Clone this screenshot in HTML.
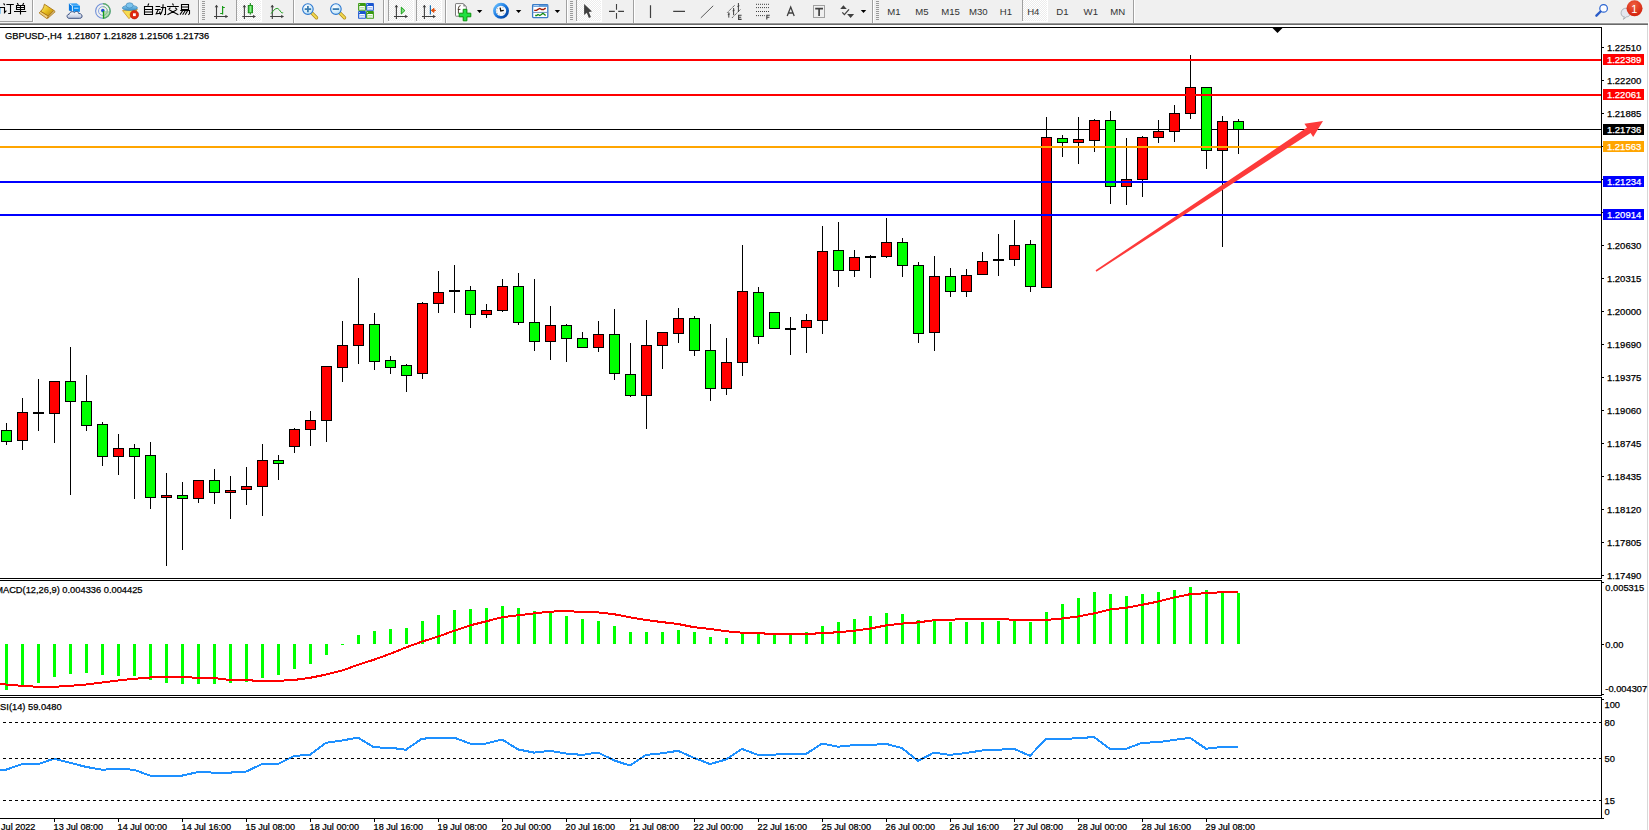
<!DOCTYPE html>
<html><head><meta charset="utf-8"><title>MT4 GBPUSD H4</title>
<style>
html,body{margin:0;padding:0;background:#fff;}
body{width:1649px;height:830px;overflow:hidden;position:relative;font-family:"Liberation Sans", sans-serif;}
svg{position:absolute;left:0;top:0;display:block;}
text{font-family:"Liberation Sans", sans-serif;}
</style></head><body>
<svg width="1649" height="830" viewBox="0 0 1649 830">
<rect x="0" y="0" width="1649" height="830" fill="#fff"/>
<rect x="0" y="0" width="1649" height="22" fill="#f0f0f0"/>
<rect x="0" y="22" width="1648" height="1" fill="#f5f5f5"/>
<rect x="0" y="23" width="1648" height="1" fill="#9a9a9a"/>
<rect x="0" y="24" width="1648" height="1" fill="#6a6a6a"/>
<defs>
<pattern id="dith" width="2" height="2" patternUnits="userSpaceOnUse">
<rect width="2" height="2" fill="#ececec"/><rect width="1" height="1" fill="#fff"/><rect x="1" y="1" width="1" height="1" fill="#fff"/>
</pattern>
<linearGradient id="gold" x1="0" y1="0" x2="1" y2="1"><stop offset="0" stop-color="#fff08a"/><stop offset="0.5" stop-color="#e8c020"/><stop offset="1" stop-color="#b07810"/></linearGradient>
<linearGradient id="cloud" x1="0" y1="0" x2="0" y2="1"><stop offset="0" stop-color="#ffffff"/><stop offset="1" stop-color="#b8c4dc"/></linearGradient>
<radialGradient id="lens" cx="0.4" cy="0.35" r="0.7"><stop offset="0" stop-color="#ffffff"/><stop offset="1" stop-color="#b8e0f8"/></radialGradient>
<linearGradient id="cgreen" x1="0" y1="0" x2="1" y2="0"><stop offset="0" stop-color="#10a010"/><stop offset="0.5" stop-color="#90f890"/><stop offset="1" stop-color="#10a010"/></linearGradient>
<radialGradient id="badge" cx="0.45" cy="0.3" r="0.75"><stop offset="0" stop-color="#f06040"/><stop offset="1" stop-color="#d01c08"/></radialGradient>
<linearGradient id="clk" x1="0" y1="0" x2="1" y2="1"><stop offset="0" stop-color="#6ac0ff"/><stop offset="0.5" stop-color="#1a78e0"/><stop offset="1" stop-color="#003c98"/></linearGradient>
<linearGradient id="hat" x1="0" y1="0" x2="0" y2="1"><stop offset="0" stop-color="#8cd0f4"/><stop offset="1" stop-color="#3a90c8"/></linearGradient>
</defs>
<rect x="237" y="0" width="24" height="21" fill="url(#dith)"/>
<rect x="261" y="0" width="1" height="22" fill="#fff"/>
<rect x="236" y="21" width="26" height="1" fill="#fff"/>
<rect x="389" y="0" width="24" height="21" fill="url(#dith)"/>
<rect x="413" y="0" width="1" height="22" fill="#fff"/>
<rect x="388" y="21" width="26" height="1" fill="#fff"/>
<rect x="417" y="0" width="24" height="21" fill="url(#dith)"/>
<rect x="441" y="0" width="1" height="22" fill="#fff"/>
<rect x="416" y="21" width="26" height="1" fill="#fff"/>
<rect x="577" y="0" width="24" height="21" fill="url(#dith)"/>
<rect x="601" y="0" width="1" height="22" fill="#fff"/>
<rect x="576" y="21" width="26" height="1" fill="#fff"/>
<rect x="1023" y="0" width="24" height="21" fill="url(#dith)"/>
<rect x="1047" y="0" width="1" height="22" fill="#fff"/>
<rect x="1022" y="21" width="26" height="1" fill="#fff"/>
<g shape-rendering="crispEdges">
<rect x="32" y="0" width="1" height="22" fill="#a0a0a0"/>
<rect x="0" y="21" width="33" height="1" fill="#a0a0a0"/>
<rect x="33" y="0" width="1" height="22" fill="#ffffff"/>
<rect x="198" y="0" width="1" height="23" fill="#a0a0a0"/>
<rect x="199" y="0" width="1" height="23" fill="#ffffff"/>
<rect x="293" y="0" width="1" height="23" fill="#a0a0a0"/>
<rect x="294" y="0" width="1" height="23" fill="#ffffff"/>
<rect x="383" y="0" width="1" height="23" fill="#a0a0a0"/>
<rect x="384" y="0" width="1" height="23" fill="#ffffff"/>
<rect x="445" y="0" width="1" height="23" fill="#a0a0a0"/>
<rect x="446" y="0" width="1" height="23" fill="#ffffff"/>
<rect x="566" y="0" width="1" height="23" fill="#a0a0a0"/>
<rect x="567" y="0" width="1" height="23" fill="#ffffff"/>
<rect x="633" y="0" width="1" height="23" fill="#a0a0a0"/>
<rect x="634" y="0" width="1" height="23" fill="#ffffff"/>
<rect x="872" y="0" width="1" height="23" fill="#a0a0a0"/>
<rect x="873" y="0" width="1" height="23" fill="#ffffff"/>
<rect x="1133" y="0" width="1" height="23" fill="#a0a0a0"/>
<rect x="1134" y="0" width="1" height="23" fill="#ffffff"/>
<rect x="236" y="0" width="1" height="21" fill="#a0a0a0"/>
<rect x="388" y="0" width="1" height="21" fill="#a0a0a0"/>
<rect x="416" y="0" width="1" height="21" fill="#a0a0a0"/>
<rect x="576" y="0" width="1" height="21" fill="#a0a0a0"/>
<rect x="1022" y="0" width="1" height="21" fill="#a0a0a0"/>
<rect x="202" y="1" width="3" height="1" fill="#9a9a9a"/>
<rect x="202" y="3" width="3" height="1" fill="#9a9a9a"/>
<rect x="202" y="5" width="3" height="1" fill="#9a9a9a"/>
<rect x="202" y="7" width="3" height="1" fill="#9a9a9a"/>
<rect x="202" y="9" width="3" height="1" fill="#9a9a9a"/>
<rect x="202" y="11" width="3" height="1" fill="#9a9a9a"/>
<rect x="202" y="13" width="3" height="1" fill="#9a9a9a"/>
<rect x="202" y="15" width="3" height="1" fill="#9a9a9a"/>
<rect x="202" y="17" width="3" height="1" fill="#9a9a9a"/>
<rect x="202" y="19" width="3" height="1" fill="#9a9a9a"/>
<rect x="570" y="1" width="3" height="1" fill="#9a9a9a"/>
<rect x="570" y="3" width="3" height="1" fill="#9a9a9a"/>
<rect x="570" y="5" width="3" height="1" fill="#9a9a9a"/>
<rect x="570" y="7" width="3" height="1" fill="#9a9a9a"/>
<rect x="570" y="9" width="3" height="1" fill="#9a9a9a"/>
<rect x="570" y="11" width="3" height="1" fill="#9a9a9a"/>
<rect x="570" y="13" width="3" height="1" fill="#9a9a9a"/>
<rect x="570" y="15" width="3" height="1" fill="#9a9a9a"/>
<rect x="570" y="17" width="3" height="1" fill="#9a9a9a"/>
<rect x="570" y="19" width="3" height="1" fill="#9a9a9a"/>
<rect x="876" y="1" width="3" height="1" fill="#9a9a9a"/>
<rect x="876" y="3" width="3" height="1" fill="#9a9a9a"/>
<rect x="876" y="5" width="3" height="1" fill="#9a9a9a"/>
<rect x="876" y="7" width="3" height="1" fill="#9a9a9a"/>
<rect x="876" y="9" width="3" height="1" fill="#9a9a9a"/>
<rect x="876" y="11" width="3" height="1" fill="#9a9a9a"/>
<rect x="876" y="13" width="3" height="1" fill="#9a9a9a"/>
<rect x="876" y="15" width="3" height="1" fill="#9a9a9a"/>
<rect x="876" y="17" width="3" height="1" fill="#9a9a9a"/>
<rect x="876" y="19" width="3" height="1" fill="#9a9a9a"/>
</g>
<path d="M0.5,7.5 V13.8" stroke="#8cc8f0" stroke-width="1"/>
<path fill="none" stroke="#000" stroke-width="1.1" stroke-linecap="butt" d="M3.6,3.4 L4.8,5.2 M0,7.5 H4.5 V12.6 L6.4,10.6 M6.4,4.5 H13.8 M10.5,4.5 V13.5 H8.2"/>
<path fill="none" stroke="#000" stroke-width="1.1" stroke-linecap="butt" d="M17.2,3.2 L18.4,4.8 M23.8,3.2 L22.6,4.8 M16.5,5.5 H24.5 V9.5 H16.5 Z M16.5,7.5 H24.5 M20.5,5.5 V14.6 M14,11.5 H26.2"/>
<path fill="none" stroke="#000" stroke-width="1.1" stroke-linecap="butt" d="M148.8,3.6 L147.8,5.8 M144.5,6.5 H152.5 V14.5 H144.5 Z M144.5,9.5 H152.5 M144.5,12 H152.5"/>
<path fill="none" stroke="#000" stroke-width="1.1" stroke-linecap="butt" d="M155.6,6.5 H160.2 M155.2,9.5 H160.8 M158.2,9.8 L156.2,13.8 L160.6,13.2 M159.4,11.6 L160.7,13.8 M160.8,7.5 H165.5 V14.3 L164,14.6 M163.1,4.2 Q163.1,11 160.2,14.8"/>
<path fill="none" stroke="#000" stroke-width="1.1" stroke-linecap="butt" d="M172.5,3.5 L173.5,5.4 M167,6.5 H178.8 M170.4,7.6 L168.6,9.6 M175.2,7.6 L177.2,9.6 M169.4,10 L178.4,14.8 M176.4,10 L167.4,14.8"/>
<path fill="none" stroke="#000" stroke-width="1.1" stroke-linecap="butt" d="M181.5,4.5 H188.5 V9.5 H181.5 Z M181.5,7 H188.5 M180.2,10.5 H189.5 V13.6 L188.4,14.8 M182.6,10.8 L180,14.6 M185.2,10.8 L182.6,14.8 M187.6,10.8 L185.2,14.8"/>
<path d="M44.4,4.2 L53.8,10.4 L48.4,16.2 L40.6,11.4 C42.4,9.6 43.6,7.8 44.4,4.2 Z" fill="url(#gold)" stroke="#a8700c" stroke-width="0.9"/>
<path d="M40.6,11.4 L48.4,16.2 L46.8,18.6 L39.1,12.9 Z" fill="#f0d080" stroke="#a8700c" stroke-width="0.8"/>
<path d="M53.8,10.4 L55.2,11.7 L47.6,18.5 L48.4,16.2 Z" fill="#d8c080" stroke="#a8700c" stroke-width="0.8"/>
<path d="M72.4,5.8 H79.9 V11.8 H72.4 Z" fill="#0a8cf0"/>
<path d="M68.9,3.4 L72.4,5.8 V11.8 L68.9,10.6 Z" fill="#0878e0"/>
<path d="M68.9,3.4 L76.6,3.2 L79.9,5.8 L72.4,5.8 Z" fill="#3aa2f4"/>
<path d="M69.6,3.9 L72.4,5.8 V11.8 M74.1,8.2 H78.5" stroke="#e8f6ff" stroke-width="0.9" fill="none"/>
<path d="M69,18.3 C66.5,18.3 66.3,14.2 69.2,14.2 C69.6,11.6 73.2,11.0 74.4,12.6 C75.8,10.6 78.6,11.4 78.6,13.4 C82.6,13.2 83.4,18.3 79.8,18.3 Z" fill="url(#cloud)" stroke="#3c5080" stroke-width="1"/>
<path d="M103,10.9 L110.6,10.9 A7.6,7.6 0 0 1 103,18.5 Z" fill="#b4dcae"/>
<circle cx="102.9" cy="11" r="7.3" fill="none" stroke="#7090d8" stroke-width="1.1"/>
<path d="M102.9,3.7 A7.3,7.3 0 0 1 102.9,18.3" fill="none" stroke="#5ab060" stroke-width="1.2"/>
<circle cx="102.9" cy="11" r="4.4" fill="none" stroke="#8aa6e0" stroke-width="1"/>
<path d="M102.9,6.6 A4.4,4.4 0 0 1 102.9,15.4" fill="none" stroke="#8ac88a" stroke-width="1"/>
<circle cx="102.8" cy="10.6" r="1.8" fill="#2050d0"/>
<path d="M103.5,11 V18.5" stroke="#18a018" stroke-width="1.3"/>
<path d="M122.5,10.6 L137.4,9.4 L129,18.7 Z" fill="#f6dc50" stroke="#d09020" stroke-width="0.8"/>
<ellipse cx="129.9" cy="7.9" rx="7.6" ry="2.6" fill="url(#hat)" stroke="#3a80b0" stroke-width="0.6"/>
<ellipse cx="129.6" cy="5.4" rx="3.6" ry="2.6" fill="#7cc4ee" stroke="#3a80b0" stroke-width="0.6"/>
<circle cx="134.4" cy="14.7" r="4.2" fill="#e02810" stroke="#b01000" stroke-width="0.6"/>
<rect x="133" y="13.3" width="2.8" height="2.8" fill="#fff"/>
<path d="M216.5,5.5 V19 M214,16.5 H227.6" stroke="#404040" stroke-width="1.1" fill="none"/>
<path d="M214.7,7.2 L216.5,4.8 L218.3,7.2 Z M225.4,14.7 L228.0,16.5 L225.4,18.3 Z" fill="#404040"/>
<path d="M222.6,6 V14.5 M222.6,7.5 H224.8 M220.2,13.5 H222.6" stroke="#1a9a1a" stroke-width="1.2" fill="none"/>
<path d="M244.4,5.5 V19 M242.3,16.5 H255.3" stroke="#404040" stroke-width="1.1" fill="none"/>
<path d="M242.6,7.2 L244.4,4.8 L246.20000000000002,7.2 Z M253.10000000000002,14.7 L255.70000000000002,16.5 L253.10000000000002,18.3 Z" fill="#404040"/>
<path d="M250.3,3 V14.6" stroke="#108010" stroke-width="1"/>
<rect x="248.2" y="5.4" width="4.4" height="7.4" fill="url(#cgreen)" stroke="#0a800a" stroke-width="0.8"/>
<path d="M272.3,5.5 V19 M270.2,16.5 H283.4" stroke="#404040" stroke-width="1.1" fill="none"/>
<path d="M270.5,7.2 L272.3,4.8 L274.1,7.2 Z M281.2,14.7 L283.79999999999995,16.5 L281.2,18.3 Z" fill="#404040"/>
<path d="M271.1,13.6 Q276.5,5.4 279.5,10 T282.8,12.4" stroke="#20a020" stroke-width="1" fill="none"/>
<path d="M311.5,12.6 L316.5,17.8" stroke="#b08818" stroke-width="3.4" stroke-linecap="round"/>
<path d="M311.5,12.6 L316.5,17.8" stroke="#f0d850" stroke-width="2" stroke-linecap="round"/>
<circle cx="307.9" cy="9.1" r="5.3" fill="url(#lens)" stroke="#2c78d0" stroke-width="1.1"/>
<path d="M304.7,9.1 H311.09999999999997 M307.9,5.9 V12.3" stroke="#3a7cb0" stroke-width="1.8"/>
<path d="M339.5,12.6 L344.5,17.8" stroke="#b08818" stroke-width="3.4" stroke-linecap="round"/>
<path d="M339.5,12.6 L344.5,17.8" stroke="#f0d850" stroke-width="2" stroke-linecap="round"/>
<circle cx="335.9" cy="9.1" r="5.3" fill="url(#lens)" stroke="#2c78d0" stroke-width="1.1"/>
<path d="M332.7,9.1 H339.09999999999997" stroke="#3a7cb0" stroke-width="1.8"/>
<rect x="358.1" y="3.0" width="7.8" height="7.8" rx="0.9" fill="#3a9a12"/>
<rect x="359.3" y="6.0" width="5.5" height="3.9" fill="#fff"/>
<rect x="360.1" y="7.2" width="3.9" height="1.1" fill="#a8d890"/>
<rect x="360.3" y="9.3" width="3.5" height="0.8" fill="#a8d890"/>
<circle cx="359.5" cy="4.5" r="0.6" fill="#fff" fill-opacity="0.8"/>
<rect x="366.1" y="3.0" width="7.8" height="7.8" rx="0.9" fill="#1a56d0"/>
<rect x="367.3" y="6.0" width="5.5" height="3.9" fill="#fff"/>
<rect x="368.1" y="7.2" width="3.9" height="1.1" fill="#90b0f0"/>
<rect x="368.3" y="9.3" width="3.5" height="0.8" fill="#90b0f0"/>
<circle cx="367.5" cy="4.5" r="0.6" fill="#fff" fill-opacity="0.8"/>
<rect x="358.1" y="11.0" width="7.8" height="7.8" rx="0.9" fill="#1a56d0"/>
<rect x="359.3" y="14.0" width="5.5" height="3.9" fill="#fff"/>
<rect x="360.1" y="15.2" width="3.9" height="1.1" fill="#90b0f0"/>
<rect x="360.3" y="17.3" width="3.5" height="0.8" fill="#90b0f0"/>
<circle cx="359.5" cy="12.5" r="0.6" fill="#fff" fill-opacity="0.8"/>
<rect x="366.1" y="11.0" width="7.8" height="7.8" rx="0.9" fill="#3a9a12"/>
<rect x="367.3" y="14.0" width="5.5" height="3.9" fill="#fff"/>
<rect x="368.1" y="15.2" width="3.9" height="1.1" fill="#a8d890"/>
<rect x="368.3" y="17.3" width="3.5" height="0.8" fill="#a8d890"/>
<circle cx="367.5" cy="12.5" r="0.6" fill="#fff" fill-opacity="0.8"/>
<path d="M396.4,5.5 V19 M394,16.5 H407.4" stroke="#404040" stroke-width="1.1" fill="none"/>
<path d="M394.59999999999997,7.2 L396.4,4.8 L398.2,7.2 Z M405.2,14.7 L407.79999999999995,16.5 L405.2,18.3 Z" fill="#404040"/>
<path d="M401.3,7.2 L404.9,10.6 L401.3,14 Z" fill="#80e080" stroke="#18a018" stroke-width="1"/>
<path d="M424.4,5.5 V19 M422,16.5 H435.3" stroke="#404040" stroke-width="1.1" fill="none"/>
<path d="M422.59999999999997,7.2 L424.4,4.8 L426.2,7.2 Z M433.1,14.7 L435.7,16.5 L433.1,18.3 Z" fill="#404040"/>
<path d="M430.4,5.2 V14.6" stroke="#1a70b0" stroke-width="1.2"/>
<path d="M431.2,10.4 L434,8.4 L434,12.4 Z M433,10.4 H436" stroke="#e05010" fill="#e05010" stroke-width="1"/>
<path d="M456,3.6 H463.3 L466.3,6.6 V16.2 H456 Q455.5,16.2 455.5,15.6 V4.2 Q455.5,3.6 456,3.6 Z" fill="#fff" stroke="#7a7a7a" stroke-width="1"/>
<path d="M463.3,3.6 V6.6 H466.3 Z" fill="#8a8a8a"/>
<path d="M460.6,5.6 Q458.4,5.8 458.4,8.4 V13.6 M457.8,9.4 H460.4" stroke="#3a3020" stroke-width="0.9" fill="none"/>
<path d="M463.2,9.3 H466.9 V13.2 H470.8 V16.8 H466.9 V20.8 H463.2 V16.8 H459.2 V13.2 H463.2 Z" fill="#20e040" stroke="#0a900a" stroke-width="1"/>
<path d="M476.9,10 H482.29999999999995 L479.59999999999997,13 Z" fill="#000"/>
<path d="M515.9,10 H521.3 L518.6,13 Z" fill="#000"/>
<path d="M554.7,10 H560.1 L557.4000000000001,13 Z" fill="#000"/>
<path d="M860.8,10 H866.1999999999999 L863.5,13 Z" fill="#000"/>
<circle cx="501" cy="10.85" r="6.6" fill="#f8f8f8" stroke="url(#clk)" stroke-width="2.8"/>
<path d="M497,8.6 h0.8 M496.4,11 h0.8 M497.2,13.4 h0.8 M499,15.2 h0.8 M503.4,13.4 h0.8 M502.6,7.6 h0.8" stroke="#909090" stroke-width="0.8"/>
<path d="M500.1,7.6 L500.8,10.9 L503.8,10.4" stroke="#111" stroke-width="1.3" fill="none"/>
<rect x="532.6" y="4.6" width="15.2" height="13" rx="0.8" fill="#fff" stroke="#3a7cc8" stroke-width="1.3"/>
<rect x="533.2" y="5" width="14" height="1.9" fill="#5a98d8"/>
<path d="M533.8,5.6 H538.8" stroke="#cfe6ff" stroke-width="0.8"/>
<path d="M532.6,12.4 H547.8" stroke="#6a90c0" stroke-width="1"/>
<path d="M534.2,10.4 H536.5 L538,9.4 L539.8,8.4 L541.6,9.5 H543.6 L545,8.5 H545.8" stroke="#a01800" stroke-width="1.3" fill="none"/>
<path d="M535.2,15.5 H536.7 L538,14.5 L539.8,15.5 L541.4,14.5 L542.9,13.3 L544.2,14.3 L545.6,15.6" stroke="#108a10" stroke-width="1.3" fill="none"/>
<path d="M584.1,3.9 V14.9 L586.8,12.7 L588.9,17.9 L590.9,17.1 L588.8,12.1 L592,11.6 Z" fill="#404040"/>
<path d="M616.5,3.9 V9.7 M616.5,13.1 V18.8 M609,11.4 H614.8 M618.2,11.4 H624" stroke="#404040" stroke-width="1.1"/>
<path d="M650.5,5.2 V17.9 M673.2,11.4 H685" stroke="#404040" stroke-width="1.2"/>
<path d="M700.8,17.9 L713.2,5.8" stroke="#4a4a4a" stroke-width="0.9"/>
<path d="M727.2,12.7 L734.9,5 M732,17.9 L740.9,9" stroke="#404040" stroke-width="0.9" stroke-dasharray="1.3,0.7"/>
<path d="M728.8,12.3 V17.6 M733.6,8 V15.2 M738.4,3 V12 M727.8,14.6 L729.8,14 M732.6,10.8 L734.6,10.2 M737.4,6.4 L739.4,5.8" stroke="#404040" stroke-width="1"/>
<path d="M741.6,15.2 H738.6 V19.4 H741.6 M738.6,17.3 H741.2" stroke="#404040" stroke-width="1.1" fill="none"/>
<path d="M756,4.3 H769.5" stroke="#404040" stroke-width="1" stroke-dasharray="1,1"/>
<path d="M756,7.6 H769.5" stroke="#404040" stroke-width="1" stroke-dasharray="1,1"/>
<path d="M756,11.5 H769.5" stroke="#404040" stroke-width="1" stroke-dasharray="1,1"/>
<path d="M756,15.6 H764.8" stroke="#404040" stroke-width="1" stroke-dasharray="1,1"/>
<path d="M769.8,15.3 H766.8 V19.6 M766.8,17.3 H769.4" stroke="#404040" stroke-width="1.1" fill="none"/>
<path d="M787.2,16 L790.7,7 L794.2,16 M788.5,13 H792.9" stroke="#404040" stroke-width="1.3" fill="none"/>
<rect x="813.5" y="5.5" width="11" height="12" fill="none" stroke="#404040" stroke-width="0.9" stroke-dasharray="1,1"/>
<path d="M815.2,8.6 H823 M819.1,8.6 V15.9" stroke="#404040" stroke-width="1.7"/>
<path d="M840.2,9.1 L843.4,5.2 L846.8,9.1 Z M847.1,14 L854.1,14 L850.6,17.9 Z" fill="#404040"/>
<path d="M842.3,12.4 L844.4,14.6 L849,9.4" stroke="#404040" stroke-width="1.3" fill="none"/>
<text x="887.3" y="15" font-size="9.6" fill="#333">M1</text>
<text x="915.3" y="15" font-size="9.6" fill="#333">M5</text>
<text x="941.2" y="15" font-size="9.6" fill="#333">M15</text>
<text x="969" y="15" font-size="9.6" fill="#333">M30</text>
<text x="999.8" y="15" font-size="9.6" fill="#333">H1</text>
<text x="1027.2" y="15" font-size="9.6" fill="#333">H4</text>
<text x="1056.3" y="15" font-size="9.6" fill="#333">D1</text>
<text x="1083.6" y="15" font-size="9.6" fill="#333">W1</text>
<text x="1110.3" y="15" font-size="9.6" fill="#333">MN</text>
<circle cx="1603.6" cy="8.4" r="3.8" fill="#fdfdff" stroke="#2a64d0" stroke-width="1.2"/>
<path d="M1600.6,11.5 L1596.4,15.7" stroke="#2a5cc8" stroke-width="2.4" stroke-linecap="round"/>
<path d="M1626,8.2 C1620,8.2 1619.6,16.8 1624.4,16.8 L1623.4,19.4 L1626.6,16.8 C1632,16.8 1632,8.2 1626,8.2 Z" fill="#e4e6ee" stroke="#a0a4ac" stroke-width="0.8"/>
<circle cx="1634.5" cy="8.3" r="8" fill="url(#badge)"/>
<text x="1634.3" y="12.6" font-size="11" fill="#fff" text-anchor="middle" font-family="Liberation Serif, serif">1</text>
<g shape-rendering="crispEdges">
<rect x="0" y="27" width="1602" height="1" fill="#000"/>
<rect x="1601" y="27" width="1" height="552" fill="#000"/>
<rect x="0" y="578" width="1602" height="1" fill="#000"/>
<rect x="0" y="580" width="1602" height="1" fill="#000"/>
<rect x="1601" y="580" width="1" height="116" fill="#000"/>
<rect x="0" y="695" width="1602" height="1" fill="#000"/>
<rect x="0" y="697" width="1602" height="1" fill="#000"/>
<rect x="1601" y="697" width="1" height="122" fill="#000"/>
<rect x="0" y="818" width="1602" height="1" fill="#000"/>
<rect x="1647" y="25" width="1" height="805" fill="#d8d8d8"/>
<rect x="1602" y="47" width="2" height="1" fill="#000"/>
<rect x="1602" y="80" width="2" height="1" fill="#000"/>
<rect x="1602" y="113" width="2" height="1" fill="#000"/>
<rect x="1602" y="146" width="2" height="1" fill="#000"/>
<rect x="1602" y="179" width="2" height="1" fill="#000"/>
<rect x="1602" y="212" width="2" height="1" fill="#000"/>
<rect x="1602" y="245" width="2" height="1" fill="#000"/>
<rect x="1602" y="278" width="2" height="1" fill="#000"/>
<rect x="1602" y="311" width="2" height="1" fill="#000"/>
<rect x="1602" y="344" width="2" height="1" fill="#000"/>
<rect x="1602" y="377" width="2" height="1" fill="#000"/>
<rect x="1602" y="410" width="2" height="1" fill="#000"/>
<rect x="1602" y="443" width="2" height="1" fill="#000"/>
<rect x="1602" y="476" width="2" height="1" fill="#000"/>
<rect x="1602" y="509" width="2" height="1" fill="#000"/>
<rect x="1602" y="542" width="2" height="1" fill="#000"/>
<rect x="1602" y="575" width="2" height="1" fill="#000"/>
</g>
<text x="1606.9" y="51" fill="#000" stroke="#000" stroke-width="0.25" font-size="9.5">1.22510</text>
<text x="1606.9" y="84" fill="#000" stroke="#000" stroke-width="0.25" font-size="9.5">1.22200</text>
<text x="1606.9" y="117" fill="#000" stroke="#000" stroke-width="0.25" font-size="9.5">1.21885</text>
<text x="1606.9" y="150" fill="#000" stroke="#000" stroke-width="0.25" font-size="9.5">1.21570</text>
<text x="1606.9" y="183" fill="#000" stroke="#000" stroke-width="0.25" font-size="9.5">1.21255</text>
<text x="1606.9" y="216" fill="#000" stroke="#000" stroke-width="0.25" font-size="9.5">1.20940</text>
<text x="1606.9" y="249" fill="#000" stroke="#000" stroke-width="0.25" font-size="9.5">1.20630</text>
<text x="1606.9" y="282" fill="#000" stroke="#000" stroke-width="0.25" font-size="9.5">1.20315</text>
<text x="1606.9" y="315" fill="#000" stroke="#000" stroke-width="0.25" font-size="9.5">1.20000</text>
<text x="1606.9" y="348" fill="#000" stroke="#000" stroke-width="0.25" font-size="9.5">1.19690</text>
<text x="1606.9" y="381" fill="#000" stroke="#000" stroke-width="0.25" font-size="9.5">1.19375</text>
<text x="1606.9" y="414" fill="#000" stroke="#000" stroke-width="0.25" font-size="9.5">1.19060</text>
<text x="1606.9" y="447" fill="#000" stroke="#000" stroke-width="0.25" font-size="9.5">1.18745</text>
<text x="1606.9" y="480" fill="#000" stroke="#000" stroke-width="0.25" font-size="9.5">1.18435</text>
<text x="1606.9" y="513" fill="#000" stroke="#000" stroke-width="0.25" font-size="9.5">1.18120</text>
<text x="1606.9" y="546" fill="#000" stroke="#000" stroke-width="0.25" font-size="9.5">1.17805</text>
<text x="1606.9" y="579" fill="#000" stroke="#000" stroke-width="0.25" font-size="9.5">1.17490</text>
<g shape-rendering="crispEdges">
<rect x="0" y="129" width="1601" height="1" fill="#000"/>
<rect x="6" y="423" width="1" height="22" fill="#000"/>
<rect x="1" y="430" width="11" height="12" fill="#000"/>
<rect x="2" y="431" width="9" height="10" fill="#00ff00"/>
<rect x="22" y="398" width="1" height="52" fill="#000"/>
<rect x="17" y="412" width="11" height="29" fill="#000"/>
<rect x="18" y="413" width="9" height="27" fill="#ff0000"/>
<rect x="38" y="379" width="1" height="52" fill="#000"/>
<rect x="33" y="412" width="11" height="2" fill="#000"/>
<rect x="54" y="381" width="1" height="62" fill="#000"/>
<rect x="49" y="381" width="11" height="33" fill="#000"/>
<rect x="50" y="382" width="9" height="31" fill="#ff0000"/>
<rect x="70" y="347" width="1" height="148" fill="#000"/>
<rect x="65" y="381" width="11" height="21" fill="#000"/>
<rect x="66" y="382" width="9" height="19" fill="#00ff00"/>
<rect x="86" y="375" width="1" height="56" fill="#000"/>
<rect x="81" y="401" width="11" height="25" fill="#000"/>
<rect x="82" y="402" width="9" height="23" fill="#00ff00"/>
<rect x="102" y="422" width="1" height="44" fill="#000"/>
<rect x="97" y="424" width="11" height="33" fill="#000"/>
<rect x="98" y="425" width="9" height="31" fill="#00ff00"/>
<rect x="118" y="434" width="1" height="41" fill="#000"/>
<rect x="113" y="448" width="11" height="9" fill="#000"/>
<rect x="114" y="449" width="9" height="7" fill="#ff0000"/>
<rect x="134" y="444" width="1" height="55" fill="#000"/>
<rect x="129" y="448" width="11" height="9" fill="#000"/>
<rect x="130" y="449" width="9" height="7" fill="#00ff00"/>
<rect x="150" y="442" width="1" height="67" fill="#000"/>
<rect x="145" y="455" width="11" height="43" fill="#000"/>
<rect x="146" y="456" width="9" height="41" fill="#00ff00"/>
<rect x="166" y="473" width="1" height="93" fill="#000"/>
<rect x="161" y="495" width="11" height="3" fill="#000"/>
<rect x="162" y="496" width="9" height="1" fill="#ff0000"/>
<rect x="182" y="482" width="1" height="68" fill="#000"/>
<rect x="177" y="495" width="11" height="4" fill="#000"/>
<rect x="178" y="496" width="9" height="2" fill="#00ff00"/>
<rect x="198" y="480" width="1" height="23" fill="#000"/>
<rect x="193" y="480" width="11" height="19" fill="#000"/>
<rect x="194" y="481" width="9" height="17" fill="#ff0000"/>
<rect x="214" y="469" width="1" height="35" fill="#000"/>
<rect x="209" y="480" width="11" height="13" fill="#000"/>
<rect x="210" y="481" width="9" height="11" fill="#00ff00"/>
<rect x="230" y="476" width="1" height="43" fill="#000"/>
<rect x="225" y="490" width="11" height="3" fill="#000"/>
<rect x="226" y="491" width="9" height="1" fill="#ff0000"/>
<rect x="246" y="467" width="1" height="38" fill="#000"/>
<rect x="241" y="486" width="11" height="4" fill="#000"/>
<rect x="242" y="487" width="9" height="2" fill="#ff0000"/>
<rect x="262" y="444" width="1" height="72" fill="#000"/>
<rect x="257" y="460" width="11" height="27" fill="#000"/>
<rect x="258" y="461" width="9" height="25" fill="#ff0000"/>
<rect x="278" y="455" width="1" height="25" fill="#000"/>
<rect x="273" y="460" width="11" height="4" fill="#000"/>
<rect x="274" y="461" width="9" height="2" fill="#00ff00"/>
<rect x="294" y="428" width="1" height="25" fill="#000"/>
<rect x="289" y="429" width="11" height="18" fill="#000"/>
<rect x="290" y="430" width="9" height="16" fill="#ff0000"/>
<rect x="310" y="411" width="1" height="35" fill="#000"/>
<rect x="305" y="420" width="11" height="10" fill="#000"/>
<rect x="306" y="421" width="9" height="8" fill="#ff0000"/>
<rect x="326" y="366" width="1" height="76" fill="#000"/>
<rect x="321" y="366" width="11" height="55" fill="#000"/>
<rect x="322" y="367" width="9" height="53" fill="#ff0000"/>
<rect x="342" y="321" width="1" height="61" fill="#000"/>
<rect x="337" y="345" width="11" height="23" fill="#000"/>
<rect x="338" y="346" width="9" height="21" fill="#ff0000"/>
<rect x="358" y="278" width="1" height="86" fill="#000"/>
<rect x="353" y="324" width="11" height="22" fill="#000"/>
<rect x="354" y="325" width="9" height="20" fill="#ff0000"/>
<rect x="374" y="313" width="1" height="57" fill="#000"/>
<rect x="369" y="324" width="11" height="38" fill="#000"/>
<rect x="370" y="325" width="9" height="36" fill="#00ff00"/>
<rect x="390" y="356" width="1" height="18" fill="#000"/>
<rect x="385" y="360" width="11" height="8" fill="#000"/>
<rect x="386" y="361" width="9" height="6" fill="#00ff00"/>
<rect x="406" y="364" width="1" height="28" fill="#000"/>
<rect x="401" y="365" width="11" height="11" fill="#000"/>
<rect x="402" y="366" width="9" height="9" fill="#00ff00"/>
<rect x="422" y="302" width="1" height="77" fill="#000"/>
<rect x="417" y="303" width="11" height="71" fill="#000"/>
<rect x="418" y="304" width="9" height="69" fill="#ff0000"/>
<rect x="438" y="271" width="1" height="42" fill="#000"/>
<rect x="433" y="292" width="11" height="12" fill="#000"/>
<rect x="434" y="293" width="9" height="10" fill="#ff0000"/>
<rect x="454" y="265" width="1" height="48" fill="#000"/>
<rect x="449" y="290" width="11" height="2" fill="#000"/>
<rect x="470" y="286" width="1" height="42" fill="#000"/>
<rect x="465" y="290" width="11" height="25" fill="#000"/>
<rect x="466" y="291" width="9" height="23" fill="#00ff00"/>
<rect x="486" y="304" width="1" height="14" fill="#000"/>
<rect x="481" y="310" width="11" height="5" fill="#000"/>
<rect x="482" y="311" width="9" height="3" fill="#ff0000"/>
<rect x="502" y="279" width="1" height="33" fill="#000"/>
<rect x="497" y="286" width="11" height="25" fill="#000"/>
<rect x="498" y="287" width="9" height="23" fill="#ff0000"/>
<rect x="518" y="273" width="1" height="52" fill="#000"/>
<rect x="513" y="286" width="11" height="37" fill="#000"/>
<rect x="514" y="287" width="9" height="35" fill="#00ff00"/>
<rect x="534" y="279" width="1" height="72" fill="#000"/>
<rect x="529" y="322" width="11" height="20" fill="#000"/>
<rect x="530" y="323" width="9" height="18" fill="#00ff00"/>
<rect x="550" y="306" width="1" height="54" fill="#000"/>
<rect x="545" y="325" width="11" height="17" fill="#000"/>
<rect x="546" y="326" width="9" height="15" fill="#ff0000"/>
<rect x="566" y="324" width="1" height="38" fill="#000"/>
<rect x="561" y="325" width="11" height="14" fill="#000"/>
<rect x="562" y="326" width="9" height="12" fill="#00ff00"/>
<rect x="582" y="332" width="1" height="16" fill="#000"/>
<rect x="577" y="338" width="11" height="10" fill="#000"/>
<rect x="578" y="339" width="9" height="8" fill="#00ff00"/>
<rect x="598" y="321" width="1" height="31" fill="#000"/>
<rect x="593" y="334" width="11" height="14" fill="#000"/>
<rect x="594" y="335" width="9" height="12" fill="#ff0000"/>
<rect x="614" y="309" width="1" height="71" fill="#000"/>
<rect x="609" y="334" width="11" height="40" fill="#000"/>
<rect x="610" y="335" width="9" height="38" fill="#00ff00"/>
<rect x="630" y="343" width="1" height="54" fill="#000"/>
<rect x="625" y="374" width="11" height="22" fill="#000"/>
<rect x="626" y="375" width="9" height="20" fill="#00ff00"/>
<rect x="646" y="320" width="1" height="109" fill="#000"/>
<rect x="641" y="345" width="11" height="51" fill="#000"/>
<rect x="642" y="346" width="9" height="49" fill="#ff0000"/>
<rect x="662" y="332" width="1" height="37" fill="#000"/>
<rect x="657" y="332" width="11" height="14" fill="#000"/>
<rect x="658" y="333" width="9" height="12" fill="#ff0000"/>
<rect x="678" y="308" width="1" height="35" fill="#000"/>
<rect x="673" y="318" width="11" height="16" fill="#000"/>
<rect x="674" y="319" width="9" height="14" fill="#ff0000"/>
<rect x="694" y="316" width="1" height="40" fill="#000"/>
<rect x="689" y="318" width="11" height="33" fill="#000"/>
<rect x="690" y="319" width="9" height="31" fill="#00ff00"/>
<rect x="710" y="324" width="1" height="77" fill="#000"/>
<rect x="705" y="350" width="11" height="39" fill="#000"/>
<rect x="706" y="351" width="9" height="37" fill="#00ff00"/>
<rect x="726" y="338" width="1" height="57" fill="#000"/>
<rect x="721" y="362" width="11" height="27" fill="#000"/>
<rect x="722" y="363" width="9" height="25" fill="#ff0000"/>
<rect x="742" y="245" width="1" height="131" fill="#000"/>
<rect x="737" y="291" width="11" height="72" fill="#000"/>
<rect x="738" y="292" width="9" height="70" fill="#ff0000"/>
<rect x="758" y="287" width="1" height="57" fill="#000"/>
<rect x="753" y="292" width="11" height="45" fill="#000"/>
<rect x="754" y="293" width="9" height="43" fill="#00ff00"/>
<rect x="774" y="312" width="1" height="17" fill="#000"/>
<rect x="769" y="312" width="11" height="17" fill="#000"/>
<rect x="770" y="313" width="9" height="15" fill="#00ff00"/>
<rect x="790" y="317" width="1" height="38" fill="#000"/>
<rect x="785" y="328" width="11" height="2" fill="#000"/>
<rect x="806" y="314" width="1" height="39" fill="#000"/>
<rect x="801" y="320" width="11" height="8" fill="#000"/>
<rect x="802" y="321" width="9" height="6" fill="#ff0000"/>
<rect x="822" y="226" width="1" height="108" fill="#000"/>
<rect x="817" y="251" width="11" height="70" fill="#000"/>
<rect x="818" y="252" width="9" height="68" fill="#ff0000"/>
<rect x="838" y="222" width="1" height="65" fill="#000"/>
<rect x="833" y="250" width="11" height="21" fill="#000"/>
<rect x="834" y="251" width="9" height="19" fill="#00ff00"/>
<rect x="854" y="250" width="1" height="27" fill="#000"/>
<rect x="849" y="257" width="11" height="14" fill="#000"/>
<rect x="850" y="258" width="9" height="12" fill="#ff0000"/>
<rect x="870" y="255" width="1" height="23" fill="#000"/>
<rect x="865" y="256" width="11" height="2" fill="#000"/>
<rect x="886" y="218" width="1" height="40" fill="#000"/>
<rect x="881" y="242" width="11" height="15" fill="#000"/>
<rect x="882" y="243" width="9" height="13" fill="#ff0000"/>
<rect x="902" y="238" width="1" height="39" fill="#000"/>
<rect x="897" y="242" width="11" height="24" fill="#000"/>
<rect x="898" y="243" width="9" height="22" fill="#00ff00"/>
<rect x="918" y="262" width="1" height="81" fill="#000"/>
<rect x="913" y="265" width="11" height="69" fill="#000"/>
<rect x="914" y="266" width="9" height="67" fill="#00ff00"/>
<rect x="934" y="256" width="1" height="95" fill="#000"/>
<rect x="929" y="276" width="11" height="57" fill="#000"/>
<rect x="930" y="277" width="9" height="55" fill="#ff0000"/>
<rect x="950" y="268" width="1" height="29" fill="#000"/>
<rect x="945" y="276" width="11" height="16" fill="#000"/>
<rect x="946" y="277" width="9" height="14" fill="#00ff00"/>
<rect x="966" y="269" width="1" height="28" fill="#000"/>
<rect x="961" y="275" width="11" height="17" fill="#000"/>
<rect x="962" y="276" width="9" height="15" fill="#ff0000"/>
<rect x="982" y="252" width="1" height="23" fill="#000"/>
<rect x="977" y="261" width="11" height="14" fill="#000"/>
<rect x="978" y="262" width="9" height="12" fill="#ff0000"/>
<rect x="998" y="234" width="1" height="42" fill="#000"/>
<rect x="993" y="259" width="11" height="2" fill="#000"/>
<rect x="1014" y="220" width="1" height="46" fill="#000"/>
<rect x="1009" y="245" width="11" height="15" fill="#000"/>
<rect x="1010" y="246" width="9" height="13" fill="#ff0000"/>
<rect x="1030" y="240" width="1" height="52" fill="#000"/>
<rect x="1025" y="244" width="11" height="43" fill="#000"/>
<rect x="1026" y="245" width="9" height="41" fill="#00ff00"/>
<rect x="1046" y="117" width="1" height="171" fill="#000"/>
<rect x="1041" y="137" width="11" height="151" fill="#000"/>
<rect x="1042" y="138" width="9" height="149" fill="#ff0000"/>
<rect x="1062" y="135" width="1" height="22" fill="#000"/>
<rect x="1057" y="138" width="11" height="5" fill="#000"/>
<rect x="1058" y="139" width="9" height="3" fill="#00ff00"/>
<rect x="1078" y="117" width="1" height="47" fill="#000"/>
<rect x="1073" y="139" width="11" height="4" fill="#000"/>
<rect x="1074" y="140" width="9" height="2" fill="#ff0000"/>
<rect x="1094" y="119" width="1" height="33" fill="#000"/>
<rect x="1089" y="120" width="11" height="21" fill="#000"/>
<rect x="1090" y="121" width="9" height="19" fill="#ff0000"/>
<rect x="1110" y="111" width="1" height="93" fill="#000"/>
<rect x="1105" y="120" width="11" height="67" fill="#000"/>
<rect x="1106" y="121" width="9" height="65" fill="#00ff00"/>
<rect x="1126" y="138" width="1" height="67" fill="#000"/>
<rect x="1121" y="179" width="11" height="8" fill="#000"/>
<rect x="1122" y="180" width="9" height="6" fill="#ff0000"/>
<rect x="1142" y="136" width="1" height="61" fill="#000"/>
<rect x="1137" y="137" width="11" height="43" fill="#000"/>
<rect x="1138" y="138" width="9" height="41" fill="#ff0000"/>
<rect x="1158" y="120" width="1" height="23" fill="#000"/>
<rect x="1153" y="131" width="11" height="7" fill="#000"/>
<rect x="1154" y="132" width="9" height="5" fill="#ff0000"/>
<rect x="1174" y="105" width="1" height="37" fill="#000"/>
<rect x="1169" y="113" width="11" height="19" fill="#000"/>
<rect x="1170" y="114" width="9" height="17" fill="#ff0000"/>
<rect x="1190" y="55" width="1" height="64" fill="#000"/>
<rect x="1185" y="87" width="11" height="27" fill="#000"/>
<rect x="1186" y="88" width="9" height="25" fill="#ff0000"/>
<rect x="1206" y="87" width="1" height="82" fill="#000"/>
<rect x="1201" y="87" width="11" height="64" fill="#000"/>
<rect x="1202" y="88" width="9" height="62" fill="#00ff00"/>
<rect x="1222" y="116" width="1" height="131" fill="#000"/>
<rect x="1217" y="121" width="11" height="30" fill="#000"/>
<rect x="1218" y="122" width="9" height="28" fill="#ff0000"/>
<rect x="1238" y="119" width="1" height="35" fill="#000"/>
<rect x="1233" y="121" width="11" height="9" fill="#000"/>
<rect x="1234" y="122" width="9" height="7" fill="#00ff00"/>
<rect x="0" y="59" width="1601" height="2" fill="#ff0000"/>
<rect x="0" y="94" width="1601" height="2" fill="#ff0000"/>
<rect x="0" y="146" width="1601" height="2" fill="#ffa500"/>
<rect x="0" y="181" width="1601" height="2" fill="#0000ff"/>
<rect x="0" y="214" width="1601" height="2" fill="#0000ff"/>
<rect x="1603" y="54" width="41" height="11" fill="#ff0000"/>
<rect x="1603" y="89" width="41" height="11" fill="#ff0000"/>
<rect x="1603" y="124" width="41" height="11" fill="#000000"/>
<rect x="1603" y="141" width="41" height="11" fill="#ffa500"/>
<rect x="1603" y="176" width="41" height="11" fill="#0000ff"/>
<rect x="1603" y="209" width="41" height="11" fill="#0000ff"/>
</g>
<text x="1606.9" y="63" fill="#fff" stroke="#fff" stroke-width="0.25" font-size="9.5">1.22389</text>
<text x="1606.9" y="98" fill="#fff" stroke="#fff" stroke-width="0.25" font-size="9.5">1.22061</text>
<text x="1606.9" y="133" fill="#fff" stroke="#fff" stroke-width="0.25" font-size="9.5">1.21736</text>
<text x="1606.9" y="150" fill="#fff" stroke="#fff" stroke-width="0.25" font-size="9.5">1.21563</text>
<text x="1606.9" y="185" fill="#fff" stroke="#fff" stroke-width="0.25" font-size="9.5">1.21234</text>
<text x="1606.9" y="218" fill="#fff" stroke="#fff" stroke-width="0.25" font-size="9.5">1.20914</text>
<polygon fill="#fd3a3a" points="1096.4,271.7 1310.6,133.1 1313.2,137.0 1323.0,121.0 1304.4,123.7 1307.0,127.6 1095.6,270.3"/>
<text x="5" y="39" fill="#000" stroke="#000" stroke-width="0.25" font-size="9.3" xml:space="preserve">GBPUSD-,H4  1.21807 1.21828 1.21506 1.21736</text>
<polygon fill="#000" points="1272.5,28 1282.5,28 1277.5,33"/>
<g shape-rendering="crispEdges">
<rect x="5" y="644" width="3" height="46" fill="#00ff00"/>
<rect x="21" y="644" width="3" height="42" fill="#00ff00"/>
<rect x="37" y="644" width="3" height="39" fill="#00ff00"/>
<rect x="53" y="644" width="3" height="33" fill="#00ff00"/>
<rect x="69" y="644" width="3" height="30" fill="#00ff00"/>
<rect x="85" y="644" width="3" height="29" fill="#00ff00"/>
<rect x="101" y="644" width="3" height="31" fill="#00ff00"/>
<rect x="117" y="644" width="3" height="32" fill="#00ff00"/>
<rect x="133" y="644" width="3" height="32" fill="#00ff00"/>
<rect x="149" y="644" width="3" height="36" fill="#00ff00"/>
<rect x="165" y="644" width="3" height="39" fill="#00ff00"/>
<rect x="181" y="644" width="3" height="40" fill="#00ff00"/>
<rect x="197" y="644" width="3" height="40" fill="#00ff00"/>
<rect x="213" y="644" width="3" height="40" fill="#00ff00"/>
<rect x="229" y="644" width="3" height="39" fill="#00ff00"/>
<rect x="245" y="644" width="3" height="38" fill="#00ff00"/>
<rect x="261" y="644" width="3" height="34" fill="#00ff00"/>
<rect x="277" y="644" width="3" height="31" fill="#00ff00"/>
<rect x="293" y="644" width="3" height="25" fill="#00ff00"/>
<rect x="309" y="644" width="3" height="20" fill="#00ff00"/>
<rect x="325" y="644" width="3" height="11" fill="#00ff00"/>
<rect x="341" y="644" width="3" height="1" fill="#00ff00"/>
<rect x="357" y="635" width="3" height="9" fill="#00ff00"/>
<rect x="373" y="631" width="3" height="13" fill="#00ff00"/>
<rect x="389" y="629" width="3" height="15" fill="#00ff00"/>
<rect x="405" y="628" width="3" height="16" fill="#00ff00"/>
<rect x="421" y="621" width="3" height="23" fill="#00ff00"/>
<rect x="437" y="615" width="3" height="29" fill="#00ff00"/>
<rect x="453" y="610" width="3" height="34" fill="#00ff00"/>
<rect x="469" y="609" width="3" height="35" fill="#00ff00"/>
<rect x="485" y="608" width="3" height="36" fill="#00ff00"/>
<rect x="501" y="606" width="3" height="38" fill="#00ff00"/>
<rect x="517" y="608" width="3" height="36" fill="#00ff00"/>
<rect x="533" y="611" width="3" height="33" fill="#00ff00"/>
<rect x="549" y="613" width="3" height="31" fill="#00ff00"/>
<rect x="565" y="616" width="3" height="28" fill="#00ff00"/>
<rect x="581" y="619" width="3" height="25" fill="#00ff00"/>
<rect x="597" y="621" width="3" height="23" fill="#00ff00"/>
<rect x="613" y="626" width="3" height="18" fill="#00ff00"/>
<rect x="629" y="632" width="3" height="12" fill="#00ff00"/>
<rect x="645" y="632" width="3" height="12" fill="#00ff00"/>
<rect x="661" y="632" width="3" height="12" fill="#00ff00"/>
<rect x="677" y="630" width="3" height="14" fill="#00ff00"/>
<rect x="693" y="632" width="3" height="12" fill="#00ff00"/>
<rect x="709" y="637" width="3" height="7" fill="#00ff00"/>
<rect x="725" y="638" width="3" height="6" fill="#00ff00"/>
<rect x="741" y="634" width="3" height="10" fill="#00ff00"/>
<rect x="757" y="634" width="3" height="10" fill="#00ff00"/>
<rect x="773" y="635" width="3" height="9" fill="#00ff00"/>
<rect x="789" y="635" width="3" height="9" fill="#00ff00"/>
<rect x="805" y="632" width="3" height="12" fill="#00ff00"/>
<rect x="821" y="626" width="3" height="18" fill="#00ff00"/>
<rect x="837" y="622" width="3" height="22" fill="#00ff00"/>
<rect x="853" y="619" width="3" height="25" fill="#00ff00"/>
<rect x="869" y="616" width="3" height="28" fill="#00ff00"/>
<rect x="885" y="613" width="3" height="31" fill="#00ff00"/>
<rect x="901" y="614" width="3" height="30" fill="#00ff00"/>
<rect x="917" y="620" width="3" height="24" fill="#00ff00"/>
<rect x="933" y="621" width="3" height="23" fill="#00ff00"/>
<rect x="949" y="622" width="3" height="22" fill="#00ff00"/>
<rect x="965" y="622" width="3" height="22" fill="#00ff00"/>
<rect x="981" y="622" width="3" height="22" fill="#00ff00"/>
<rect x="997" y="621" width="3" height="23" fill="#00ff00"/>
<rect x="1013" y="620" width="3" height="24" fill="#00ff00"/>
<rect x="1029" y="622" width="3" height="22" fill="#00ff00"/>
<rect x="1045" y="612" width="3" height="32" fill="#00ff00"/>
<rect x="1061" y="604" width="3" height="40" fill="#00ff00"/>
<rect x="1077" y="598" width="3" height="46" fill="#00ff00"/>
<rect x="1093" y="592" width="3" height="52" fill="#00ff00"/>
<rect x="1109" y="594" width="3" height="50" fill="#00ff00"/>
<rect x="1125" y="596" width="3" height="48" fill="#00ff00"/>
<rect x="1141" y="594" width="3" height="50" fill="#00ff00"/>
<rect x="1157" y="592" width="3" height="52" fill="#00ff00"/>
<rect x="1173" y="590" width="3" height="54" fill="#00ff00"/>
<rect x="1189" y="587" width="3" height="57" fill="#00ff00"/>
<rect x="1205" y="590" width="3" height="54" fill="#00ff00"/>
<rect x="1221" y="591" width="3" height="53" fill="#00ff00"/>
<rect x="1237" y="593" width="3" height="51" fill="#00ff00"/>
</g>
<polyline shape-rendering="crispEdges" fill="none" stroke="#ff0000" stroke-width="2" points="-10,684.0 6,684.5 22,685.8 38,686.8 54,686.8 70,685.8 86,684.5 102,682.5 118,680.5 134,678.8 150,677.5 166,677 182,677 198,677.8 214,678 230,680 246,680.3 262,680.8 278,680.8 294,680 310,677.8 326,674.6 342,670.6 358,664.8 374,659.7 390,653.9 406,647.4 422,641.6 438,636.6 454,630.8 470,625.4 486,621.4 502,617.3 518,615.3 534,613.4 550,611.7 566,611 582,612 598,612.4 614,614.2 630,617.3 646,620 662,622.1 678,624 694,627.2 710,629 726,631.2 742,632.7 758,633.3 774,633.8 790,633.8 806,633.8 822,633.3 838,632.2 854,630.8 870,628.6 886,625.4 902,623.6 918,622.4 934,620.2 950,619.7 966,619.1 982,619.1 998,619.1 1014,619.7 1030,620 1046,620 1062,618.5 1078,616.5 1094,613.4 1110,609.5 1126,607.8 1142,604.8 1158,601.6 1174,597.5 1190,594.2 1206,593.2 1222,592.2 1238,591.9"/>
<text x="-4.8" y="593" fill="#000" stroke="#000" stroke-width="0.25" font-size="9.3">MACD(12,26,9) 0.004336 0.004425</text>
<g shape-rendering="crispEdges">
<rect x="1602" y="582" width="2" height="1" fill="#000"/>
<rect x="1602" y="644" width="2" height="1" fill="#000"/>
<rect x="1602" y="694" width="2" height="1" fill="#000"/>
</g>
<text x="1605.3" y="591" fill="#000" stroke="#000" stroke-width="0.25" font-size="9.3">0.005315</text>
<text x="1605.3" y="648" fill="#000" stroke="#000" stroke-width="0.25" font-size="9.3">0.00</text>
<text x="1605.3" y="692" fill="#000" stroke="#000" stroke-width="0.25" font-size="9.3">-0.004307</text>
<polyline shape-rendering="crispEdges" fill="none" stroke="#1e90ff" stroke-width="2" points="-10,769.7 6,769.7 22,764.1 38,764.1 54,758.7 70,762.8 86,766.9 102,769.7 118,769 134,769.7 150,775.6 166,775.6 182,775.6 198,772.1 214,772.6 230,772.6 246,771.6 262,764.1 278,764.1 294,755.9 310,754.9 326,742.8 342,740.5 358,737.6 374,747.4 390,747.7 406,749.7 422,738.6 438,738.2 454,737.6 470,743.6 486,743.6 502,739.5 518,749.4 534,752.6 550,750.8 566,753.5 582,754.9 598,752.5 614,760.3 630,765.6 646,754.9 662,753.3 678,750.8 694,757.9 710,764.1 726,759.5 742,748.9 758,754.9 774,754.6 790,754 806,754 822,743.5 838,746.7 854,745.1 870,745.1 886,743.8 902,748.1 918,760.8 934,752.6 950,754.9 966,753 982,750.5 998,749.7 1014,748.9 1030,755.8 1046,738.7 1062,738.7 1078,738.4 1094,736.9 1110,748.9 1126,748.9 1142,742.8 1158,742.2 1174,739.9 1190,737.9 1206,748.7 1222,746.9 1238,746.9"/>
<g shape-rendering="crispEdges">
<line x1="3" y1="722.5" x2="1601" y2="722.5" stroke="#000" stroke-width="1" stroke-dasharray="3,3"/>
<line x1="3" y1="758.5" x2="1601" y2="758.5" stroke="#000" stroke-width="1" stroke-dasharray="3,3"/>
<line x1="3" y1="800.5" x2="1601" y2="800.5" stroke="#000" stroke-width="1" stroke-dasharray="3,3"/>
<rect x="1602" y="699" width="2" height="1" fill="#000"/>
<rect x="1602" y="818" width="2" height="1" fill="#000"/>
</g>
<text x="-6.6" y="710" fill="#000" stroke="#000" stroke-width="0.25" font-size="9.3">RSI(14) 59.0480</text>
<text x="1604.5" y="708" fill="#000" stroke="#000" stroke-width="0.25" font-size="9.3">100</text>
<text x="1604.5" y="726" fill="#000" stroke="#000" stroke-width="0.25" font-size="9.3">80</text>
<text x="1604.5" y="762" fill="#000" stroke="#000" stroke-width="0.25" font-size="9.3">50</text>
<text x="1604.5" y="804" fill="#000" stroke="#000" stroke-width="0.25" font-size="9.3">15</text>
<text x="1604.5" y="815" fill="#000" stroke="#000" stroke-width="0.25" font-size="9.3">0</text>
<g shape-rendering="crispEdges">
<rect x="-10" y="819" width="1" height="3" fill="#000"/>
<rect x="54" y="819" width="1" height="3" fill="#000"/>
<rect x="118" y="819" width="1" height="3" fill="#000"/>
<rect x="182" y="819" width="1" height="3" fill="#000"/>
<rect x="246" y="819" width="1" height="3" fill="#000"/>
<rect x="310" y="819" width="1" height="3" fill="#000"/>
<rect x="374" y="819" width="1" height="3" fill="#000"/>
<rect x="438" y="819" width="1" height="3" fill="#000"/>
<rect x="502" y="819" width="1" height="3" fill="#000"/>
<rect x="566" y="819" width="1" height="3" fill="#000"/>
<rect x="630" y="819" width="1" height="3" fill="#000"/>
<rect x="694" y="819" width="1" height="3" fill="#000"/>
<rect x="758" y="819" width="1" height="3" fill="#000"/>
<rect x="822" y="819" width="1" height="3" fill="#000"/>
<rect x="886" y="819" width="1" height="3" fill="#000"/>
<rect x="950" y="819" width="1" height="3" fill="#000"/>
<rect x="1014" y="819" width="1" height="3" fill="#000"/>
<rect x="1078" y="819" width="1" height="3" fill="#000"/>
<rect x="1142" y="819" width="1" height="3" fill="#000"/>
<rect x="1206" y="819" width="1" height="3" fill="#000"/>
</g>
<text x="-11.6" y="829.6" fill="#000" stroke="#000" stroke-width="0.25" font-size="9.1">12 Jul 2022</text>
<text x="53.6" y="829.6" fill="#000" stroke="#000" stroke-width="0.25" font-size="9.1">13 Jul 08:00</text>
<text x="117.6" y="829.6" fill="#000" stroke="#000" stroke-width="0.25" font-size="9.1">14 Jul 00:00</text>
<text x="181.6" y="829.6" fill="#000" stroke="#000" stroke-width="0.25" font-size="9.1">14 Jul 16:00</text>
<text x="245.6" y="829.6" fill="#000" stroke="#000" stroke-width="0.25" font-size="9.1">15 Jul 08:00</text>
<text x="309.6" y="829.6" fill="#000" stroke="#000" stroke-width="0.25" font-size="9.1">18 Jul 00:00</text>
<text x="373.6" y="829.6" fill="#000" stroke="#000" stroke-width="0.25" font-size="9.1">18 Jul 16:00</text>
<text x="437.6" y="829.6" fill="#000" stroke="#000" stroke-width="0.25" font-size="9.1">19 Jul 08:00</text>
<text x="501.6" y="829.6" fill="#000" stroke="#000" stroke-width="0.25" font-size="9.1">20 Jul 00:00</text>
<text x="565.6" y="829.6" fill="#000" stroke="#000" stroke-width="0.25" font-size="9.1">20 Jul 16:00</text>
<text x="629.6" y="829.6" fill="#000" stroke="#000" stroke-width="0.25" font-size="9.1">21 Jul 08:00</text>
<text x="693.6" y="829.6" fill="#000" stroke="#000" stroke-width="0.25" font-size="9.1">22 Jul 00:00</text>
<text x="757.6" y="829.6" fill="#000" stroke="#000" stroke-width="0.25" font-size="9.1">22 Jul 16:00</text>
<text x="821.6" y="829.6" fill="#000" stroke="#000" stroke-width="0.25" font-size="9.1">25 Jul 08:00</text>
<text x="885.6" y="829.6" fill="#000" stroke="#000" stroke-width="0.25" font-size="9.1">26 Jul 00:00</text>
<text x="949.6" y="829.6" fill="#000" stroke="#000" stroke-width="0.25" font-size="9.1">26 Jul 16:00</text>
<text x="1013.6" y="829.6" fill="#000" stroke="#000" stroke-width="0.25" font-size="9.1">27 Jul 08:00</text>
<text x="1077.6" y="829.6" fill="#000" stroke="#000" stroke-width="0.25" font-size="9.1">28 Jul 00:00</text>
<text x="1141.6" y="829.6" fill="#000" stroke="#000" stroke-width="0.25" font-size="9.1">28 Jul 16:00</text>
<text x="1205.6" y="829.6" fill="#000" stroke="#000" stroke-width="0.25" font-size="9.1">29 Jul 08:00</text>
</svg>
</body></html>
